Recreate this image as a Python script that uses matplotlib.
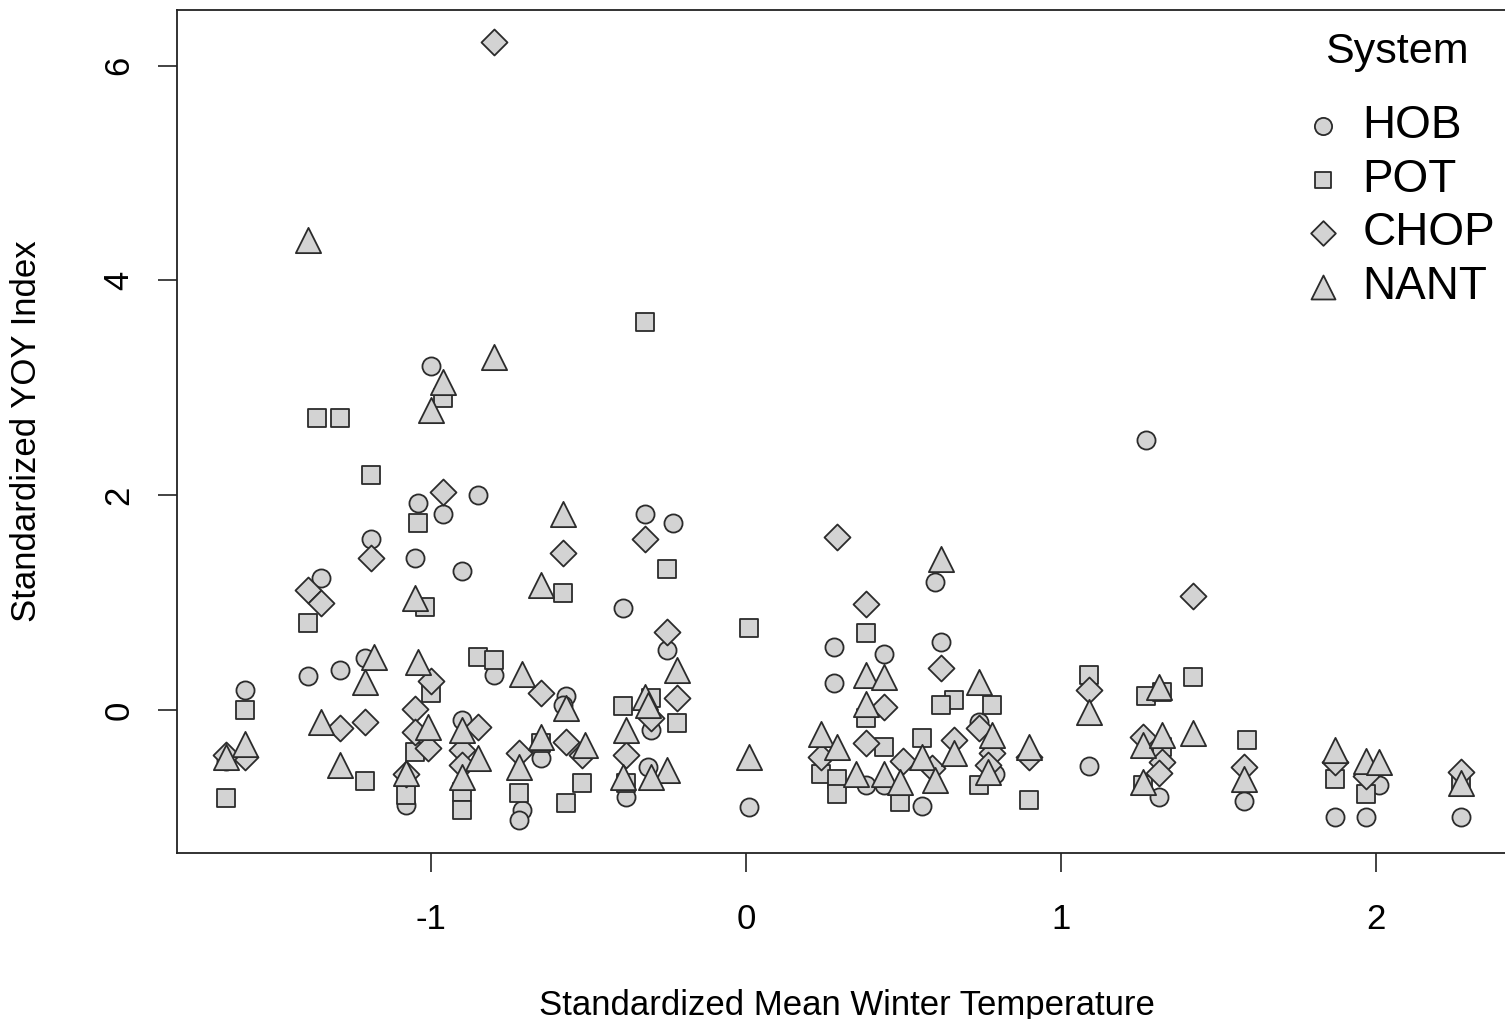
"""
Standardized YOY index vs standardized mean winter temperature, by system.
"""

import matplotlib
matplotlib.use("Agg")
import matplotlib.pyplot as plt

plt.rcParams["font.family"] = ["Liberation Sans", "DejaVu Sans"]
plt.rcParams["axes.unicode_minus"] = False

# Values (x = temperature, y = YOY index)
hob_x = [-1.59, -1.65, -1.39, -1.29, -1.21, -1.35, -1.19, -1.00, -0.85, -1.04,
         -0.96, -1.05, -0.90, -1.08, -0.80, -0.57, -0.58, -0.90, -0.71, -0.72,
         -0.65, -0.25, -0.30, -0.31, -0.38, -0.39, -0.32, -0.23, 0.01, 0.28,
         0.44, 0.62, 0.28, 0.60, 0.74, 0.38, 0.44, 0.56, 0.79, 1.09,
         1.27, 1.31, 1.58, 1.87, 2.01, 1.97, 2.27]
hob_y = [0.19, -0.47, 0.32, 0.37, 0.48, 1.23, 1.59, 3.20, 2.00, 1.93,
         1.83, 1.42, 1.29, -0.88, 0.33, 0.13, 0.05, -0.09, -0.93, -1.02,
         -0.45, 0.56, -0.19, -0.53, -0.81, 0.95, 1.83, 1.74, -0.90, 0.59,
         0.52, 0.63, 0.25, 1.19, -0.11, -0.70, -0.70, -0.89, -0.60, -0.52,
         2.51, -0.81, -0.85, -1.00, -0.70, -1.00, -1.00]

pot_x = [-1.39, -1.59, -1.65, -1.21, -1.36, -1.29, -1.19, -0.96, -1.04, -1.02,
         -1.00, -1.05, -1.08, -0.85, -0.80, -0.90, -0.90, -0.72, -0.65, -0.52,
         -0.57, -0.58, -0.32, -0.25, -0.22, 0.01, -0.39, -0.30, -0.38, 0.38,
         0.66, 0.62, 0.78, 0.38, 0.24, 0.29, 0.29, 0.44, 0.49, 0.56,
         0.74, 0.90, 1.09, 1.27, 1.32, 1.42, 1.32, 1.26, 1.59, 1.87,
         1.97, 2.27]
pot_y = [0.81, 0.00, -0.82, -0.66, 2.72, 2.72, 2.19, 2.91, 1.74, 0.96,
         0.16, -0.39, -0.79, 0.49, 0.47, -0.76, -0.93, -0.77, -0.31, -0.68,
         -0.87, 1.09, 3.61, 1.31, -0.12, 0.76, 0.04, 0.11, -0.68, 0.72,
         0.09, 0.05, 0.05, -0.07, -0.60, -0.64, -0.78, -0.34, -0.86, -0.26,
         -0.70, -0.84, 0.33, 0.13, 0.17, 0.31, -0.34, -0.70, -0.28, -0.64,
         -0.78, -0.68]

chop_x = [-1.59, -1.65, -1.29, -1.21, -1.39, -1.35, -1.19, -0.96, -0.80, -1.00,
          -1.05, -1.05, -1.01, -1.08, -0.65, -0.85, -0.90, -0.90, -0.72, -0.57,
          -0.52, -0.58, -0.32, -0.25, -0.22, -0.30, -0.38, 0.29, 0.38, 0.62,
          0.44, 0.74, 0.24, 0.38, 0.50, 0.59, 0.66, 0.78, 0.77, 0.90,
          1.09, 1.26, 1.32, 1.31, 1.42, 1.58, 1.87, 1.97, 2.27]
chop_y = [-0.44, -0.42, -0.17, -0.11, 1.12, 1.00, 1.42, 2.03, 6.22, 0.27,
          0.01, -0.20, -0.35, -0.60, 0.16, -0.16, -0.37, -0.51, -0.40, -0.30,
          -0.42, 1.46, 1.59, 0.73, 0.11, -0.07, -0.42, 1.61, 0.99, 0.39,
          0.03, -0.17, -0.44, -0.31, -0.47, -0.54, -0.28, -0.40, -0.51, -0.44,
          0.19, -0.25, -0.48, -0.59, 1.06, -0.53, -0.48, -0.61, -0.58]

nant_x = [-1.59, -1.65, -1.39, -1.18, -1.21, -1.35, -1.29, -0.80, -0.96, -1.00,
          -1.05, -1.04, -1.01, -1.08, -0.71, -0.57, -0.90, -0.85, -0.90, -0.72,
          -0.65, -0.51, -0.58, -0.65, -0.22, -0.32, -0.31, -0.38, -0.25, -0.30,
          -0.39, 0.01, 0.38, 0.44, 0.74, 0.38, 0.78, 0.24, 0.29, 0.35,
          0.44, 0.49, 0.56, 0.60, 0.66, 0.77, 0.90, 0.62, 1.09, 1.31,
          1.26, 1.32, 1.42, 1.26, 1.58, 1.87, 1.97, 2.01, 2.27]
nant_y = [-0.32, -0.44, 4.38, 0.49, 0.26, -0.11, -0.51, 3.29, 3.05, 2.79,
          1.04, 0.45, -0.16, -0.59, 0.34, 0.02, -0.19, -0.45, -0.62, -0.53,
          -0.25, -0.33, 1.83, 1.16, 0.37, 0.12, 0.05, -0.19, -0.56, -0.62,
          -0.62, -0.44, 0.33, 0.31, 0.26, 0.06, -0.23, -0.22, -0.34, -0.60,
          -0.60, -0.67, -0.44, -0.65, -0.40, -0.58, -0.34, 1.41, -0.02, 0.21,
          -0.33, -0.23, -0.21, -0.67, -0.64, -0.37, -0.47, -0.48, -0.68]

systems = ["HOB", "POT", "CHOP", "NANT"]
markers = ["o", "s", "D", "^"]
sizes = [170, 165, 175, 330]

FILL = "#d3d3d3"
EDGE = "#2b2b2b"


def main():
    fig = plt.figure(figsize=(15.05, 10.19), dpi=100)
    ax = fig.add_axes([177 / 1505, 166 / 1019, 1340 / 1505, 843 / 1019])

    series = [(hob_x, hob_y), (pot_x, pot_y), (chop_x, chop_y), (nant_x, nant_y)]
    for (xs, ys), name, m, s in zip(series, systems, markers, sizes):
        ax.scatter(xs, ys, marker=m, s=s, facecolor=FILL, edgecolor=EDGE,
                   linewidth=1.3, label=name, zorder=3)

    ax.set_xlim(-1.806, 2.448)
    ax.set_ylim(-1.331, 6.518)
    ax.set_xticks([-1, 0, 1, 2])
    ax.set_yticks([0, 2, 4, 6])
    ax.tick_params(axis="both", direction="out", length=14, width=1.2,
                   labelsize=25, color="#222222")
    ax.tick_params(axis="x", pad=22)
    ax.tick_params(axis="y", pad=16)
    for lab in ax.get_yticklabels():
        lab.set_rotation(90)
        lab.set_va("center")
    for sp in ax.spines.values():
        sp.set_linewidth(1.3)
        sp.set_color("#222222")

    ax.set_xlabel("Standardized Mean Winter Temperature", fontsize=25)
    ax.set_ylabel("Standardized YOY Index", fontsize=25)
    ax.xaxis.set_label_coords(0.5, -0.161)
    ax.yaxis.set_label_coords(-0.1, 0.5)

    # legend title placed on its own, R-style gap above the entries
    fig.text(1397 / 1505, 1 - 52 / 1019, "System", fontsize=31,
             ha="center", va="center")
    ax.legend(loc="upper right",
              bbox_to_anchor=(1495 / 1505, 1 - 104 / 1019),
              bbox_transform=fig.transFigure,
              frameon=False, fontsize=33,
              markerscale=0.95, handlelength=1.0, handletextpad=0.37,
              labelspacing=0.21, borderaxespad=0.0, borderpad=0.0)

    fig.savefig("out.png", dpi=100)
    plt.close(fig)


if __name__ == "__main__":
    main()
